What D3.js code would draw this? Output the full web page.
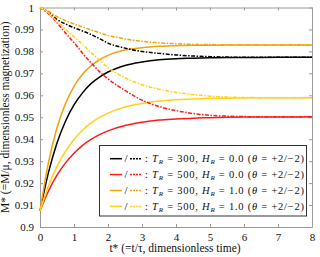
<!DOCTYPE html>
<html>
<head>
<meta charset="UTF-8">
<title>M* vs t*</title>
<script src="https://cdn.jsdelivr.net/npm/d3@7"></script>
<style>
body { margin: 0; background: #fff; }
text { font-family: "Liberation Serif", "Times New Roman", serif; }
</style>
</head>
<body>
<script>
// time samples (t*)
var times = [0, 0.25, 0.5, 0.75, 1, 1.25, 1.5, 1.75, 2, 2.5, 3, 3.5, 4, 4.5, 5, 5.5, 6, 7, 8];

// solid = theta +2, dashed = theta -2
var black_solid  = [0.9073, 0.9249, 0.9383, 0.9482, 0.9556, 0.9611, 0.9653, 0.9683, 0.9706, 0.9736, 0.9752, 0.9762, 0.9767, 0.9769, 0.9771, 0.9772, 0.9772, 0.9773, 0.9773];
var black_dash   = [1.0, 0.9978, 0.9946, 0.9925, 0.9908, 0.9893, 0.9877, 0.9858, 0.9838, 0.9815, 0.9800, 0.9791, 0.9784, 0.9779, 0.9776, 0.9774, 0.9773, 0.9773, 0.9773];
var red_solid    = [0.9073, 0.9164, 0.9236, 0.9292, 0.9336, 0.9372, 0.9399, 0.9421, 0.9438, 0.9462, 0.9477, 0.9487, 0.9492, 0.9496, 0.9498, 0.9500, 0.9501, 0.9501, 0.9502];
var red_dash     = [1.0, 0.9972, 0.9930, 0.9884, 0.9840, 0.9792, 0.9748, 0.9708, 0.9675, 0.9622, 0.9578, 0.9549, 0.9530, 0.9517, 0.9509, 0.9505, 0.9503, 0.9502, 0.9502];
var orange_solid = [0.9073, 0.9295, 0.9452, 0.9562, 0.9641, 0.9696, 0.9734, 0.9762, 0.9782, 0.9806, 0.9817, 0.9823, 0.9826, 0.9828, 0.9828, 0.9829, 0.9829, 0.9829, 0.9829];
var orange_dash  = [1.0, 0.9983, 0.9958, 0.9940, 0.9925, 0.9911, 0.9898, 0.9885, 0.9873, 0.9857, 0.9846, 0.9839, 0.9835, 0.9832, 0.9831, 0.9830, 0.9829, 0.9829, 0.9829];
var yellow_solid = [0.9073, 0.9187, 0.9276, 0.9345, 0.9399, 0.9441, 0.9474, 0.9499, 0.9519, 0.9547, 0.9563, 0.9574, 0.9580, 0.9583, 0.9586, 0.9587, 0.9588, 0.9589, 0.9589];
var yellow_dash  = [1.0, 0.9975, 0.9937, 0.9900, 0.9867, 0.9832, 0.9795, 0.9760, 0.9727, 0.9680, 0.9648, 0.9628, 0.9613, 0.9603, 0.9596, 0.9592, 0.9590, 0.9589, 0.9589];

var x_ticks = [0, 1, 2, 3, 4, 5, 6, 7, 8];
var y_ticks = [0.9, 0.91, 0.92, 0.93, 0.94, 0.95, 0.96, 0.97, 0.98, 0.99, 1];
var y_tick_labels = ["0.9", "0.91", "0.92", "0.93", "0.94", "0.95", "0.96", "0.97", "0.98", "0.99", "1"];

var legend_TR = ["300", "500", "300", "500"];
var legend_HR = ["0.0", "0.0", "1.0", "1.0"];

var black = "#000000", red = "#ff1a1a", orange = "#f0a30a", yellow = "#ffd21a";
var dash_style = "4,1.5,1.5,1.5";
var series = [
    {values: black_solid, color: black, dash: null},
    {values: red_solid, color: red, dash: null},
    {values: orange_solid, color: orange, dash: null},
    {values: yellow_solid, color: yellow, dash: null},
    {values: black_dash, color: black, dash: dash_style},
    {values: red_dash, color: red, dash: dash_style},
    {values: orange_dash, color: orange, dash: dash_style},
    {values: yellow_dash, color: yellow, dash: dash_style}
];
var legend_colors = [black, red, orange, yellow];

var Width = 320, Height = 257;
var plot_left = 40, plot_right = 312, plot_top = 7.5, plot_bottom = 227;

var svg = d3.select("body").append("svg")
    .attr("width", Width)
    .attr("height", Height);

var x = d3.scaleLinear().domain([0, 8]).range([plot_left, plot_right]);
var y = d3.scaleLinear().domain([0.9, 1]).range([plot_bottom, plot_top]);

var axis_color = "#9a9a9a";

// axes with inward ticks on all four sides
svg.append("g").attr("transform", "translate(0," + plot_bottom + ")")
    .call(d3.axisBottom(x).tickValues(x_ticks).tickSizeInner(-3).tickSizeOuter(0).tickPadding(6));
svg.append("g").attr("transform", "translate(0," + plot_top + ")")
    .call(d3.axisTop(x).tickValues(x_ticks).tickSizeInner(-3).tickSizeOuter(0).tickFormat(""));
svg.append("g").attr("transform", "translate(" + plot_left + ",0)")
    .call(d3.axisLeft(y).tickValues(y_ticks).tickSizeInner(-3).tickSizeOuter(0).tickPadding(6)
        .tickFormat(function(d, i){ return y_tick_labels[i]; }));
svg.append("g").attr("transform", "translate(" + plot_right + ",0)")
    .call(d3.axisRight(y).tickValues(y_ticks).tickSizeInner(-3).tickSizeOuter(0).tickFormat(""));

svg.selectAll(".domain").attr("stroke", axis_color);
svg.selectAll(".tick line").attr("stroke", axis_color);
svg.selectAll(".tick text").attr("font-size", 11).attr("fill", "#111")
    .attr("font-family", "Liberation Serif, serif");

var line = d3.line()
    .x(function(d, i){ return x(times[i]); })
    .y(function(d){ return y(d); })
    .curve(d3.curveMonotoneX);

svg.append("g").selectAll("path")
    .data(series)
    .enter()
    .append("path")
    .attr("d", function(d){ return line(d.values); })
    .attr("fill", "none")
    .attr("stroke", function(d){ return d.color; })
    .attr("stroke-width", 1.5)
    .attr("stroke-dasharray", function(d){ return d.dash; });

// axis titles
svg.append("text")
    .attr("x", 175)
    .attr("y", 252)
    .attr("text-anchor", "middle")
    .attr("font-size", 11.5)
    .attr("fill", "#111")
    .text("t* (=t/τ, dimensionless time)");

svg.append("text")
    .attr("transform", "translate(9," + (plot_top + plot_bottom) / 2 + ") rotate(-90)")
    .attr("text-anchor", "middle")
    .attr("font-size", 11.5)
    .attr("fill", "#111")
    .text("M* (=M/μ, dimensionless magnetization)");

// legend
var lg = svg.append("g");
lg.append("rect")
    .attr("x", 99.5).attr("y", 145.5)
    .attr("width", 207).attr("height", 70.5)
    .attr("fill", "#fff")
    .attr("stroke", "#333")
    .attr("stroke-width", 1);

var rows = lg.selectAll("g.row")
    .data(legend_colors)
    .enter()
    .append("g")
    .attr("class", "row")
    .attr("transform", function(d, i){ return "translate(0," + (158.7 + i * 15.9) + ")"; });

rows.append("line")
    .attr("x1", 110).attr("x2", 122).attr("y1", 0).attr("y2", 0)
    .attr("stroke", function(d){ return d; })
    .attr("stroke-width", 1.5);
rows.append("text")
    .attr("x", 124.5).attr("y", 3.5)
    .attr("font-size", 11)
    .text("/");
rows.append("line")
    .attr("x1", 130).attr("x2", 142).attr("y1", 0).attr("y2", 0)
    .attr("stroke", function(d){ return d; })
    .attr("stroke-width", 1.5)
    .attr("stroke-dasharray", "2,1");

var lt = rows.append("text")
    .attr("x", 145).attr("y", 3.5)
    .attr("font-size", 10.5)
    .attr("font-family", "DejaVu Serif, serif")
    .attr("fill", "#111")
    .attr("textLength", 159)
    .attr("lengthAdjust", "spacing");
lt.append("tspan").text(": ");
lt.append("tspan").attr("font-style", "italic").text("T");
lt.append("tspan").attr("font-size", 7).attr("dy", 2).attr("font-style", "italic").text("R");
lt.append("tspan").attr("dy", -2).text(function(d, i){ return " = " + legend_TR[i] + ", "; });
lt.append("tspan").attr("font-style", "italic").text("H");
lt.append("tspan").attr("font-size", 7).attr("dy", 2).attr("font-style", "italic").text("R");
lt.append("tspan").attr("dy", -2).text(function(d, i){ return " = " + legend_HR[i] + " ("; });
lt.append("tspan").attr("font-style", "italic").text("θ");
lt.append("tspan").text(" = +2/−2)");
</script>
</body>
</html>
